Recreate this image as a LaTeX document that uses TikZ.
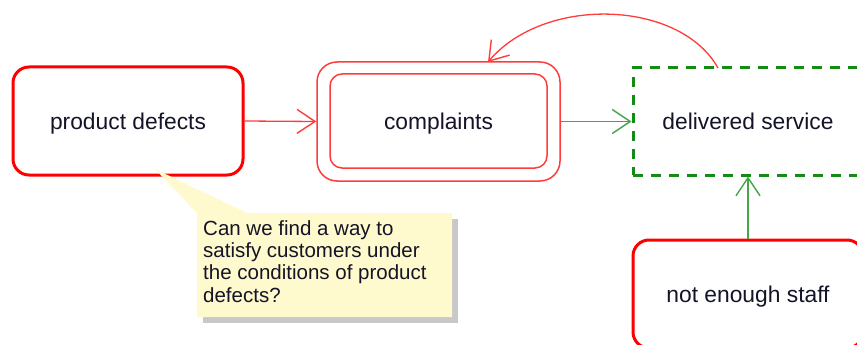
\documentclass[tikz,border=0pt]{standalone}
\usepackage{fontspec}
\setmainfont{Liberation Sans}
\usetikzlibrary{arrows.meta}
\definecolor{boxred}{RGB}{255,0,0}
\definecolor{linered}{RGB}{255,60,60}
\definecolor{dgreen}{RGB}{20,140,20}
\definecolor{lgreen}{RGB}{70,165,70}
\definecolor{notefill}{RGB}{255,250,205}
\definecolor{shadowgray}{RGB}{200,200,200}
\definecolor{txt}{RGB}{20,20,40}
\tikzset{
  base/.style={x=1pt,y=-1pt},
  statebox/.style={draw=boxred, line width=3pt, rounded corners=16pt, fill=white,
    minimum width=230pt, minimum height=108pt, inner sep=0pt, text=txt,
    text depth=0pt, font=\fontsize{22.8}{26}\selectfont},
  dashbox/.style={draw=dgreen, line width=3pt, dash pattern=on 10pt off 8pt,
    minimum width=230pt, minimum height=107pt, inner sep=0pt, text=txt,
    text depth=0pt, font=\fontsize{22.8}{26}\selectfont},
  thinred/.style={draw=linered, line width=1.5pt},
  vee/.style={-{Straight Barb[length=18pt,width=24pt,line width=1.4pt]}},
  redarrow/.style={vee, draw=linered, line width=1.3pt},
  greenarrow/.style={vee, draw=lgreen, line width=1.6pt},
  notetext/.style={anchor=north west, inner sep=0pt, text=txt, align=left,
    font=\fontsize{20.5}{22.4}\selectfont}
}
\begin{document}
\begin{tikzpicture}[base]
\useasboundingbox (0,0) rectangle (857,345);
\clip (0,0) rectangle (857,345);
\fill[white] (0,0) rectangle (857,345);

% product defects
\node[statebox] (pd) at (128,121) {product defects};

% complaints (double border)
\node[thinred, rounded corners=20pt, minimum width=243pt, minimum height=119pt, inner sep=0pt] (co) at (438.5,121.5) {};
\node[thinred, rounded corners=12pt, minimum width=217pt, minimum height=94pt, inner sep=0pt,
  text=txt, text depth=0pt, font=\fontsize{22.8}{26}\selectfont] (ci) at (438.5,121) {complaints};

% delivered service
\node[dashbox] (ds) at (748,121.5) {delivered service};

% not enough staff
\node[statebox] (ns) at (748,294) {not enough staff};

% connectors
\draw[redarrow] (pd.east) -- (co.west);
\draw[greenarrow] (co.east) -- (ds.west);
\draw[greenarrow] (ns.north) -- (ns.north |- ds.south);
\coordinate (cstart) at (718,68);
\coordinate (cend) at (488,62);
\draw[redarrow] (cstart) .. controls (680,0) and (545,-5) .. (cend);

% note with shadow
\fill[shadowgray] (203,219) rectangle (458,323);
\fill[notefill] (197,213) -- (155,169) -- (247,213) -- (452,213) -- (452,317) -- (197,317) -- cycle;
\node[notetext] (note) at (203,220) {Can we find a way to\\satisfy customers under\\the conditions of product\\defects?};
\end{tikzpicture}
\end{document}
